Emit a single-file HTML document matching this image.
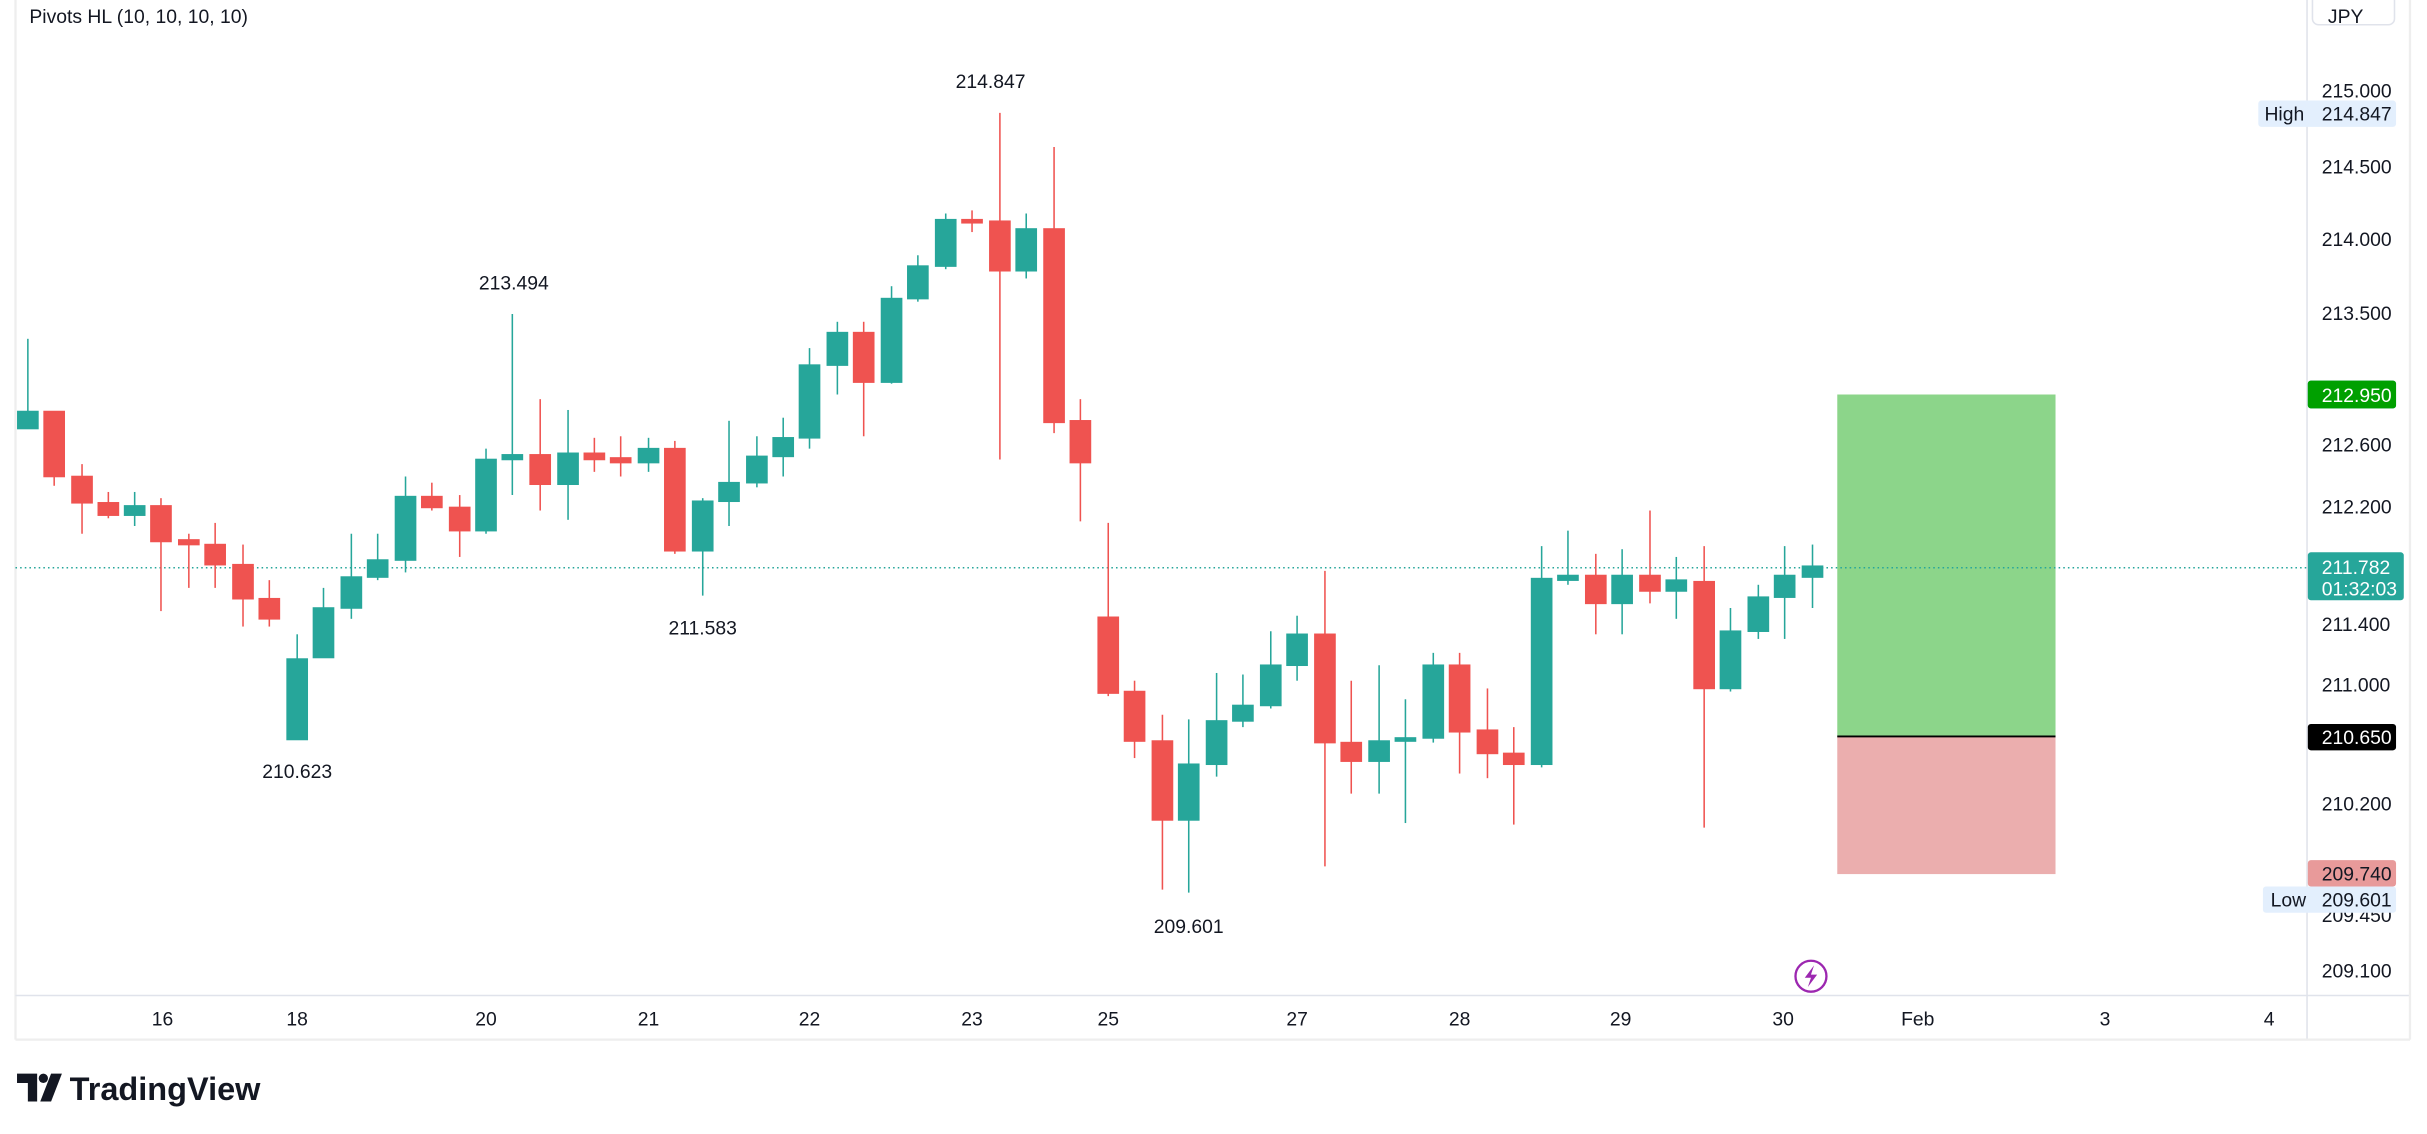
<!DOCTYPE html>
<html><head><meta charset="utf-8"><style>
html,body{margin:0;padding:0;background:#fff;}
svg{display:block;font-family:"Liberation Sans",sans-serif;}
</style></head><body>
<svg width="2427" height="1134" viewBox="0 0 1568 733" preserveAspectRatio="none" xmlns="http://www.w3.org/2000/svg">
<rect width="1568" height="733" fill="#fff"/>
<!-- frame -->
<line x1="10" y1="0" x2="10" y2="672" stroke="#eeeeee" stroke-width="1.5"/>
<line x1="1490.5" y1="0" x2="1490.5" y2="672" stroke="#e0e3eb" stroke-width="1"/>
<line x1="10" y1="643.5" x2="1557" y2="643.5" stroke="#e0e3eb" stroke-width="1"/>
<line x1="10" y1="672" x2="1557" y2="672" stroke="#eeeeee" stroke-width="1.5"/>
<line x1="1557" y1="0" x2="1557" y2="672" stroke="#eeeeee" stroke-width="1.5"/>
<text x="19" y="15" font-size="12.5" fill="#131722">Pivots HL (10, 10, 10, 10)</text>
<rect x="1494" y="-4" width="53" height="20" rx="4" fill="#fff" stroke="#e0e3eb"/>
<text x="1504" y="15" font-size="12.5" fill="#131722">JPY</text>

<!-- position box -->
<rect x="1187" y="255" width="141" height="221" fill="#8cd58a"/>
<rect x="1187" y="476" width="141" height="89" fill="#ebaeae"/>
<line x1="1187" y1="476" x2="1328" y2="476" stroke="#000" stroke-width="1.2"/>

<!-- current price line -->
<line x1="10" y1="367" x2="1490" y2="367" stroke="#26a69a" stroke-width="1" stroke-dasharray="1,2"/>

<g stroke-width="1">
<g stroke="#26a69a" fill="#26a69a">
<line x1="18" y1="219" x2="18" y2="277"/><rect x="11.5" y="266" width="13" height="11"/>
<line x1="87" y1="318" x2="87" y2="340"/><rect x="80.5" y="327" width="13" height="6"/>
<line x1="192" y1="410" x2="192" y2="478"/><rect x="185.5" y="426" width="13" height="52"/>
<line x1="209" y1="380" x2="209" y2="425"/><rect x="202.5" y="393" width="13" height="32"/>
<line x1="227" y1="345" x2="227" y2="400"/><rect x="220.5" y="373" width="13" height="20"/>
<line x1="244" y1="345" x2="244" y2="375"/><rect x="237.5" y="362" width="13" height="11"/>
<line x1="262" y1="308" x2="262" y2="370"/><rect x="255.5" y="321" width="13" height="41"/>
<line x1="314" y1="290" x2="314" y2="345"/><rect x="307.5" y="297" width="13" height="46"/>
<line x1="331" y1="203" x2="331" y2="320"/><rect x="324.5" y="294" width="13" height="3"/>
<line x1="367" y1="265" x2="367" y2="336"/><rect x="360.5" y="293" width="13" height="20"/>
<line x1="419" y1="283" x2="419" y2="305"/><rect x="412.5" y="290" width="13" height="9"/>
<line x1="454" y1="322" x2="454" y2="385"/><rect x="447.5" y="324" width="13" height="32"/>
<line x1="471" y1="272" x2="471" y2="340"/><rect x="464.5" y="312" width="13" height="12"/>
<line x1="489" y1="282" x2="489" y2="315"/><rect x="482.5" y="295" width="13" height="17"/>
<line x1="506" y1="270" x2="506" y2="308"/><rect x="499.5" y="283" width="13" height="12"/>
<line x1="523" y1="225" x2="523" y2="290"/><rect x="516.5" y="236" width="13" height="47"/>
<line x1="541" y1="208" x2="541" y2="255"/><rect x="534.5" y="215" width="13" height="21"/>
<line x1="576" y1="185" x2="576" y2="248"/><rect x="569.5" y="193" width="13" height="54"/>
<line x1="593" y1="165" x2="593" y2="195"/><rect x="586.5" y="172" width="13" height="21"/>
<line x1="611" y1="138" x2="611" y2="174"/><rect x="604.5" y="142" width="13" height="30"/>
<line x1="663" y1="138" x2="663" y2="180"/><rect x="656.5" y="148" width="13" height="27"/>
<line x1="768" y1="465" x2="768" y2="577"/><rect x="761.5" y="494" width="13" height="36"/>
<line x1="786" y1="435" x2="786" y2="502"/><rect x="779.5" y="466" width="13" height="28"/>
<line x1="803" y1="436" x2="803" y2="470"/><rect x="796.5" y="456" width="13" height="10"/>
<line x1="821" y1="408" x2="821" y2="458"/><rect x="814.5" y="430" width="13" height="26"/>
<line x1="838" y1="398" x2="838" y2="440"/><rect x="831.5" y="410" width="13" height="20"/>
<line x1="891" y1="430" x2="891" y2="513"/><rect x="884.5" y="479" width="13" height="13"/>
<line x1="908" y1="452" x2="908" y2="532"/><rect x="901.5" y="477" width="13" height="2"/>
<line x1="926" y1="422" x2="926" y2="480"/><rect x="919.5" y="430" width="13" height="47"/>
<line x1="996" y1="353" x2="996" y2="496"/><rect x="989.5" y="374" width="13" height="120"/>
<line x1="1013" y1="343" x2="1013" y2="378"/><rect x="1006.5" y="372" width="13" height="3"/>
<line x1="1048" y1="355" x2="1048" y2="410"/><rect x="1041.5" y="372" width="13" height="18"/>
<line x1="1083" y1="360" x2="1083" y2="400"/><rect x="1076.5" y="375" width="13" height="7"/>
<line x1="1118" y1="393" x2="1118" y2="447"/><rect x="1111.5" y="408" width="13" height="37"/>
<line x1="1136" y1="378" x2="1136" y2="413"/><rect x="1129.5" y="386" width="13" height="22"/>
<line x1="1153" y1="353" x2="1153" y2="413"/><rect x="1146.5" y="372" width="13" height="14"/>
<line x1="1171" y1="352" x2="1171" y2="393"/><rect x="1164.5" y="366" width="13" height="7"/>
</g>
<g stroke="#ef5350" fill="#ef5350">
<line x1="35" y1="266" x2="35" y2="314"/><rect x="28.5" y="266" width="13" height="42"/>
<line x1="53" y1="300" x2="53" y2="345"/><rect x="46.5" y="308" width="13" height="17"/>
<line x1="70" y1="318" x2="70" y2="335"/><rect x="63.5" y="325" width="13" height="8"/>
<line x1="104" y1="322" x2="104" y2="395"/><rect x="97.5" y="327" width="13" height="23"/>
<line x1="122" y1="345" x2="122" y2="380"/><rect x="115.5" y="349" width="13" height="3"/>
<line x1="139" y1="338" x2="139" y2="380"/><rect x="132.5" y="352" width="13" height="13"/>
<line x1="157" y1="352" x2="157" y2="405"/><rect x="150.5" y="365" width="13" height="22"/>
<line x1="174" y1="375" x2="174" y2="405"/><rect x="167.5" y="387" width="13" height="13"/>
<line x1="279" y1="312" x2="279" y2="330"/><rect x="272.5" y="321" width="13" height="7"/>
<line x1="297" y1="320" x2="297" y2="360"/><rect x="290.5" y="328" width="13" height="15"/>
<line x1="349" y1="258" x2="349" y2="330"/><rect x="342.5" y="294" width="13" height="19"/>
<line x1="384" y1="283" x2="384" y2="305"/><rect x="377.5" y="293" width="13" height="4"/>
<line x1="401" y1="282" x2="401" y2="308"/><rect x="394.5" y="296" width="13" height="3"/>
<line x1="436" y1="285" x2="436" y2="358"/><rect x="429.5" y="290" width="13" height="66"/>
<line x1="558" y1="208" x2="558" y2="282"/><rect x="551.5" y="215" width="13" height="32"/>
<line x1="628" y1="136" x2="628" y2="150"/><rect x="621.5" y="142" width="13" height="2"/>
<line x1="646" y1="73" x2="646" y2="297"/><rect x="639.5" y="143" width="13" height="32"/>
<line x1="681" y1="95" x2="681" y2="280"/><rect x="674.5" y="148" width="13" height="125"/>
<line x1="698" y1="258" x2="698" y2="337"/><rect x="691.5" y="272" width="13" height="27"/>
<line x1="716" y1="338" x2="716" y2="450"/><rect x="709.5" y="399" width="13" height="49"/>
<line x1="733" y1="440" x2="733" y2="490"/><rect x="726.5" y="447" width="13" height="32"/>
<line x1="751" y1="462" x2="751" y2="575"/><rect x="744.5" y="479" width="13" height="51"/>
<line x1="856" y1="369" x2="856" y2="560"/><rect x="849.5" y="410" width="13" height="70"/>
<line x1="873" y1="440" x2="873" y2="513"/><rect x="866.5" y="480" width="13" height="12"/>
<line x1="943" y1="422" x2="943" y2="500"/><rect x="936.5" y="430" width="13" height="43"/>
<line x1="961" y1="445" x2="961" y2="503"/><rect x="954.5" y="472" width="13" height="15"/>
<line x1="978" y1="470" x2="978" y2="533"/><rect x="971.5" y="487" width="13" height="7"/>
<line x1="1031" y1="358" x2="1031" y2="410"/><rect x="1024.5" y="372" width="13" height="18"/>
<line x1="1066" y1="330" x2="1066" y2="390"/><rect x="1059.5" y="372" width="13" height="10"/>
<line x1="1101" y1="353" x2="1101" y2="535"/><rect x="1094.5" y="376" width="13" height="69"/>
</g>
</g>

<!-- pivot labels -->
<g font-size="12.5" fill="#131722" text-anchor="middle">
<text x="640" y="57">214.847</text>
<text x="332" y="187">213.494</text>
<text x="454" y="410">211.583</text>
<text x="192" y="503">210.623</text>
<text x="768" y="603">209.601</text>
</g>

<!-- lightning icon -->
<circle cx="1170" cy="631" r="10" fill="#fff" stroke="#9c27b0" stroke-width="1.5"/>
<path d="M1172 624 L1166 632 L1170 632 L1168 638 L1174 630 L1170 630 Z" fill="#9c27b0"/>

<!-- price axis -->
<g font-size="12.5" fill="#131722">
<text x="1500" y="63">215.000</text>
<text x="1500" y="112">214.500</text>
<text x="1500" y="159">214.000</text>
<text x="1500" y="207">213.500</text>
<text x="1500" y="292">212.600</text>
<text x="1500" y="332">212.200</text>
<text x="1500" y="408">211.400</text>
<text x="1500" y="447">211.000</text>
<text x="1500" y="524">210.200</text>
<text x="1500" y="596">209.450</text>
<text x="1500" y="632">209.100</text>
</g>
<rect x="1459" y="65" width="89" height="17" rx="2" fill="#e3effd"/>
<text x="1463" y="78" font-size="12.5" fill="#131722">High</text>
<text x="1500" y="78" font-size="12.5" fill="#131722">214.847</text>
<rect x="1491" y="246" width="57" height="18" rx="2" fill="#089981"/>
<rect x="1491" y="246" width="57" height="18" rx="2" fill="#00a000"/>
<text x="1500" y="260" font-size="12.5" fill="#fff">212.950</text>
<rect x="1491" y="357" width="62" height="31" rx="2" fill="#26a69a"/>
<text x="1500" y="371" font-size="12.5" fill="#fff">211.782</text>
<text x="1500" y="385" font-size="12.5" fill="#fff">01:32:03</text>
<rect x="1491" y="468" width="57" height="17" rx="2" fill="#000"/>
<text x="1500" y="481" font-size="12.5" fill="#fff">210.650</text>
<rect x="1491" y="556" width="57" height="17" rx="2" fill="#e89a9a"/>
<text x="1500" y="569" font-size="12.5" fill="#131722">209.740</text>
<rect x="1462" y="573" width="86" height="17" rx="2" fill="#e3effd"/>
<text x="1467" y="586" font-size="12.5" fill="#131722">Low</text>
<text x="1500" y="586" font-size="12.5" fill="#131722">209.601</text>

<!-- time axis -->
<g font-size="12.5" fill="#131722" text-anchor="middle">
<text x="105" y="663">16</text>
<text x="192" y="663">18</text>
<text x="314" y="663">20</text>
<text x="419" y="663">21</text>
<text x="523" y="663">22</text>
<text x="628" y="663">23</text>
<text x="716" y="663">25</text>
<text x="838" y="663">27</text>
<text x="943" y="663">28</text>
<text x="1047" y="663">29</text>
<text x="1152" y="663">30</text>
<text x="1239" y="663">Feb</text>
<text x="1360" y="663">3</text>
<text x="1466" y="663">4</text>
</g>

<!-- logo -->
<g fill="#131722">
<path d="M11 694 H24 V712 H18 V700 H11 Z"/>
<circle cx="28" cy="697" r="3"/>
<path d="M33 694 H40 L33 712 H26 Z"/>
</g>
<text x="45" y="711" font-size="21" font-weight="bold" fill="#131722">TradingView</text>
</svg>
</body></html>
